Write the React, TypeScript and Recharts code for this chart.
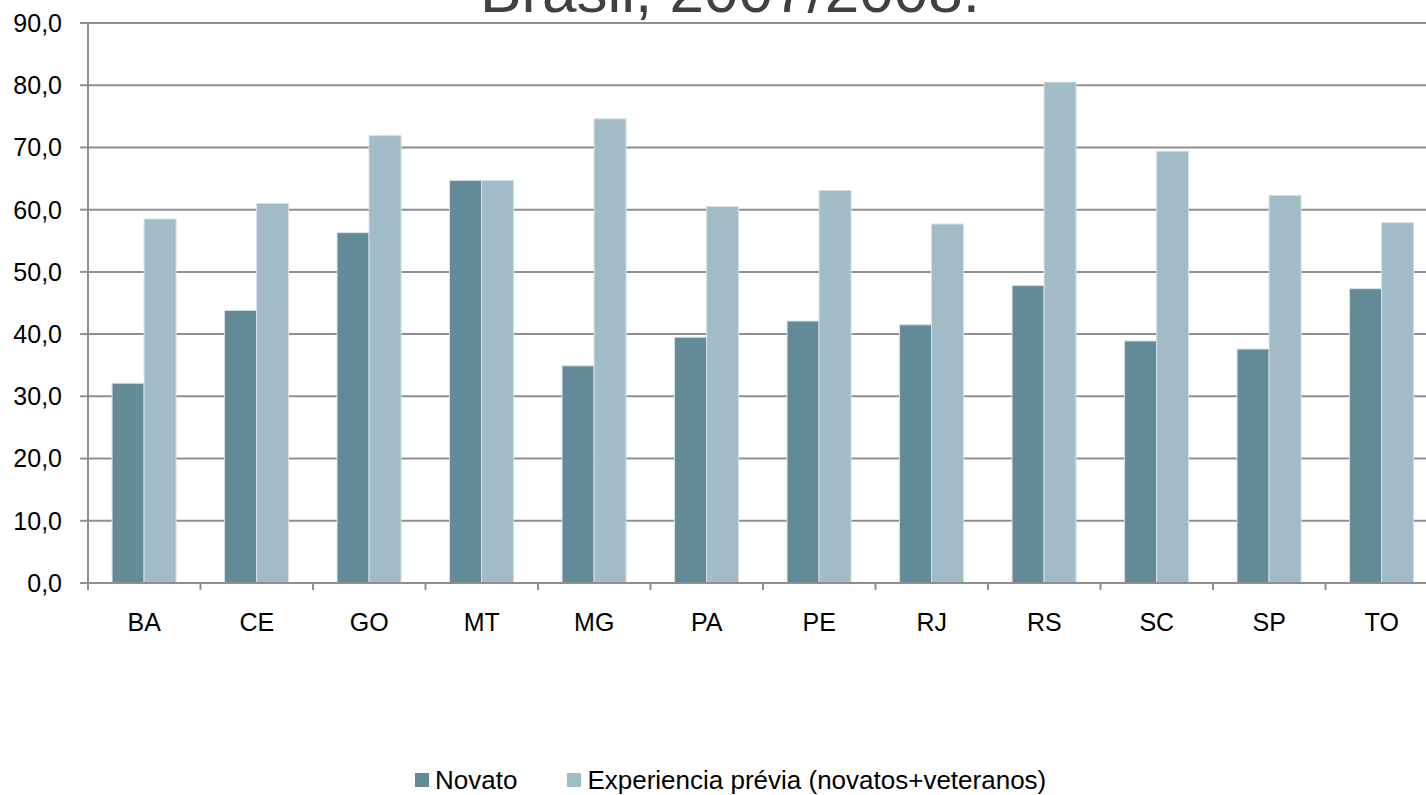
import { BarChart, Bar, XAxis, YAxis, CartesianGrid, Legend } from 'recharts'

const states = ['BA', 'CE', 'GO', 'MT', 'MG', 'PA', 'PE', 'RJ', 'RS', 'SC', 'SP', 'TO']
const novato = [32.1, 43.8, 56.3, 64.7, 34.9, 39.5, 42.1, 41.5, 47.8, 38.9, 37.6, 47.3]
const experiencia = [58.5, 61.0, 71.9, 64.7, 74.6, 60.5, 63.1, 57.7, 80.5, 69.4, 62.3, 57.9]
const yTicks = [0, 10, 20, 30, 40, 50, 60, 70, 80, 90]

const data = states.map((s, i) => ({ name: s, novato: novato[i], experiencia: experiencia[i] }))

const DARK = '#628a97'
const LIGHT = '#a2bcc7'
const GRID = '#8f8f8f'
const FONT = '"Liberation Sans", Arial, sans-serif'

const CHART_W = 1438
const PLOT_LEFT = 88
const STEP = (CHART_W - PLOT_LEFT) / states.length

function StateTick(props: any) {
  const { x, y, payload } = props
  return (
    <g>
      <line x1={x - STEP / 2} y1={y} x2={x - STEP / 2} y2={y + 7} stroke={GRID} strokeWidth={2} />
      <text x={x} y={y + 48} textAnchor="middle" fontSize={25} fontFamily={FONT} fill="#000">
        {payload.value}
      </text>
    </g>
  )
}

function LegendBox() {
  const items = [
    { label: 'Novato', color: DARK },
    { label: 'Experiencia prévia (novatos+veteranos)', color: LIGHT },
  ]
  return (
    <div style={{ display: 'flex', alignItems: 'center', paddingLeft: 415, fontFamily: FONT, fontSize: 26, height: 30 }}>
      {items.map((it, i) => (
        <div key={it.label} style={{ display: 'flex', alignItems: 'center', marginRight: i === 0 ? 50 : 0 }}>
          <span style={{ width: 14, height: 14, background: it.color, marginRight: 6, display: 'inline-block' }} />
          <span style={{ color: '#000', lineHeight: '30px' }}>{it.label}</span>
        </div>
      ))}
    </div>
  )
}

export default function App() {
  return (
    <div style={{ position: 'fixed', top: 0, left: 0, width: 1426, height: 795, overflow: 'hidden', background: '#fff' }}>
      <BarChart
        width={CHART_W}
        height={795}
        data={data}
        margin={{ top: 23, right: 0, bottom: 0, left: 0 }}
        barGap={0}
        barCategoryGap="21.4%"
      >
        <text x={730} y={12} textAnchor="middle" fontSize={62} fontFamily={FONT} fill="#404040">
          Brasil, 2007/2008.
        </text>
        <CartesianGrid vertical={false} stroke={GRID} strokeWidth={2} />
        <XAxis
          dataKey="name"
          height={212}
          axisLine={{ stroke: GRID, strokeWidth: 2 }}
          tickLine={false}
          tickSize={0}
          tickMargin={0}
          tick={<StateTick />}
          interval={0}
        />
        <YAxis
          width={PLOT_LEFT}
          domain={[0, 90]}
          ticks={yTicks}
          tickFormatter={(v: number) => v.toFixed(1).replace('.', ',')}
          axisLine={{ stroke: GRID, strokeWidth: 2 }}
          tickLine={{ stroke: GRID, strokeWidth: 2 }}
          tickSize={8}
          tickMargin={18}
          tick={{ fontSize: 25, fontFamily: FONT, fill: '#000' }}
        />
        <Legend
          layout="horizontal"
          verticalAlign="middle"
          align="center"
          content={<LegendBox />}
          wrapperStyle={{ top: 765, left: 0, width: 1426, height: 30 }}
        />
        <Bar dataKey="novato" name="Novato" fill={DARK} stroke="#d5e0e5" strokeWidth={1} isAnimationActive={false} />
        <Bar
          dataKey="experiencia"
          name="Experiencia prévia (novatos+veteranos)"
          fill={LIGHT}
          stroke="#d5e0e5"
          strokeWidth={1}
          isAnimationActive={false}
        />
      </BarChart>
    </div>
  )
}
